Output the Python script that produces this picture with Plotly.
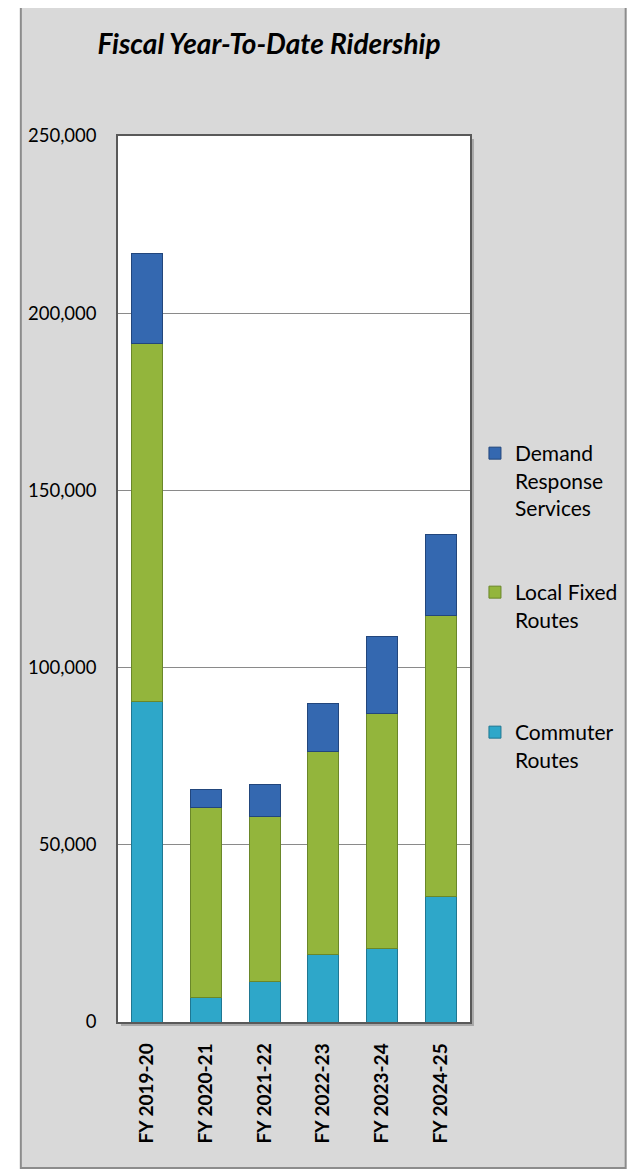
import plotly.graph_objects as go

# ---- data ----
categories = ["FY 2019-20", "FY 2020-21", "FY 2021-22", "FY 2022-23", "FY 2023-24", "FY 2024-25"]
commuter = [90300, 7050, 11300, 19000, 20700, 35500]
local_fixed = [101100, 53450, 46700, 57200, 66300, 79300]
demand = [25400, 5200, 9100, 13700, 21900, 22700]
y_ticks = [0, 50000, 100000, 150000, 200000, 250000]

# page body adds an 8px margin; lay the figure out in reference-pixel terms
OFF = 8
W, H = 635 - OFF, 1173 - OFF
L = 118 - OFF
T = 136 - OFF
R = W - (473 - OFF)
B = H - (1022 - OFF)
PW, PH = W - L - R, H - T - B


def px(x):
    return (x - OFF - L) / PW


def py(y):
    return (H - B - (y - OFF)) / PH


FONT = "Lato"

fig = go.Figure()
fig.add_trace(go.Bar(x=categories, y=commuter, name="Commuter<br>Routes",
                     marker=dict(color="#2ea7c9", line=dict(color="#1f7792", width=1)),
                     legend="legend3"))
fig.add_trace(go.Bar(x=categories, y=local_fixed, name="Local Fixed<br>Routes",
                     marker=dict(color="#93b53c", line=dict(color="#6a8729", width=1)),
                     legend="legend2"))
fig.add_trace(go.Bar(x=categories, y=demand, name="Demand<br>Response<br>Services",
                     marker=dict(color="#3468b0", line=dict(color="#22467c", width=1)),
                     legend="legend"))

shapes = [
    # outer chart frame
    dict(type="rect", xref="paper", yref="paper", layer="below",
         x0=px(20), x1=px(630), y0=py(1168), y1=py(4),
         fillcolor="#d9d9d9", line=dict(color="#8c8c8c", width=2)),
    # plot-area shadow
    dict(type="rect", xref="paper", yref="paper", layer="below",
         x0=px(121), x1=px(477), y0=py(1026), y1=py(139),
         fillcolor="#a8a8a8", line=dict(width=0)),
    # plot-area background
    dict(type="rect", xref="paper", yref="paper", layer="below",
         x0=0, x1=1, y0=0, y1=1,
         fillcolor="white", line=dict(width=0)),
]

leg_common = dict(font=dict(family=FONT, size=21, color="black"),
                  bgcolor="rgba(0,0,0,0)", valign="top", xanchor="left",
                  yanchor="top", itemclick=False, itemdoubleclick=False)

fig.update_layout(
    width=W, height=H,
    margin=dict(l=L, r=R, t=T, b=B),
    paper_bgcolor="white",
    plot_bgcolor="rgba(0,0,0,0)",
    barmode="stack",
    bargap=0.475,
    showlegend=True,
    shapes=shapes,
    title=dict(text="Fiscal Year-To-Date Ridership", x=(269 - OFF) / W, xanchor="center",
               xref="container", yref="container", y=1 - (44 - OFF) / H, yanchor="middle",
               font=dict(family=FONT, size=28, color="black", weight="bold", style="italic")),
    legend=dict(x=px(478), y=py(433), **leg_common),
    legend2=dict(x=px(478), y=py(572), **leg_common),
    legend3=dict(x=px(478), y=py(712), **leg_common),
    xaxis=dict(showgrid=False, showline=True, mirror=True, linecolor="#595959", linewidth=1.5,
               tickangle=-90, ticks="outside", ticklen=12, tickcolor="rgba(0,0,0,0)",
               tickfont=dict(family=FONT, size=19, color="black", weight="bold")),
    yaxis=dict(range=[0, 250000], tickvals=y_ticks, tickformat=",d",
               showgrid=True, gridcolor="#8a8a8a", gridwidth=1,
               showline=True, mirror=True, linecolor="#595959", linewidth=1.5,
               zeroline=False, ticks="outside", ticklen=16, tickcolor="rgba(0,0,0,0)",
               tickfont=dict(family=FONT, size=18.5, color="black")),
)

fig.write_html("out.html")
